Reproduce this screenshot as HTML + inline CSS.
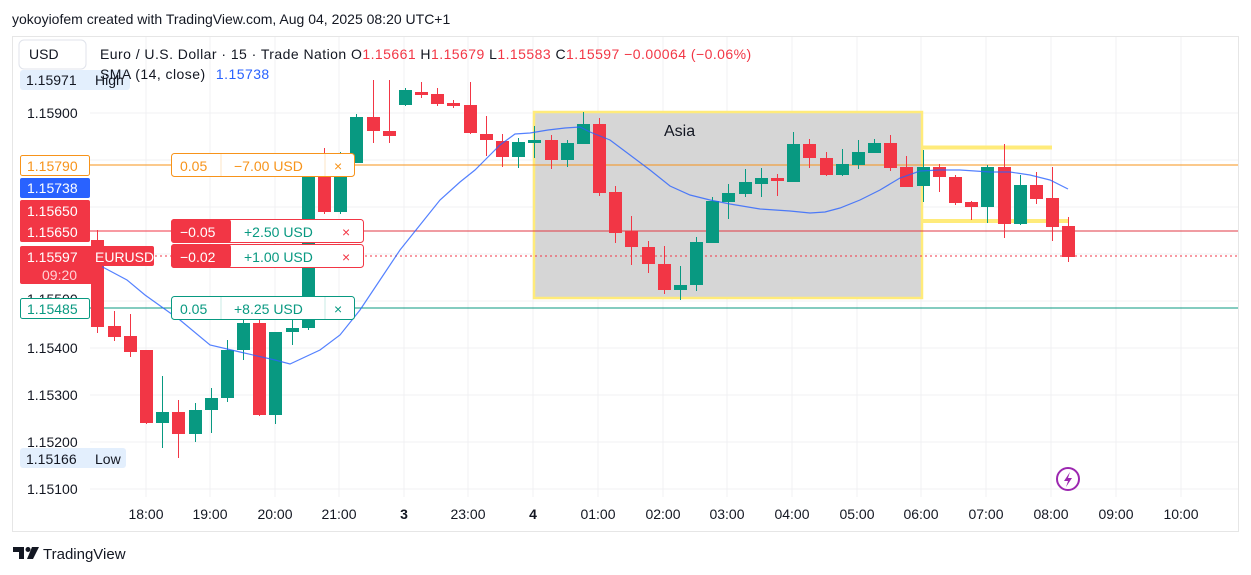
<!DOCTYPE html>
<html><head><meta charset="utf-8"><style>
html,body{margin:0;padding:0;background:#fff;width:1251px;height:575px;overflow:hidden}
svg{display:block;font-family:"Liberation Sans",sans-serif}
</style></head><body>
<svg id="s" width="1251" height="575" xmlns="http://www.w3.org/2000/svg">
<rect x="0" y="0" width="1251" height="575" fill="#fff"/>
<text x="12" y="24" font-size="14" fill="#131722">yokoyiofem created with TradingView.com, Aug 04, 2025 08:20 UTC+1</text>
<rect x="12.5" y="36.5" width="1226" height="495" fill="#fff" stroke="#e6e6e6"/>
<g id="grid" stroke="#f0f1f3" stroke-width="1"></g>
<rect x="534" y="112" width="388" height="186" fill="#d6d6d6" stroke="#ffeb7a" stroke-width="2.5"/>
<text x="664" y="136" font-size="16" fill="#131722">Asia</text>
<rect x="922" y="145.5" width="130" height="4" fill="#ffeb7a"/>
<rect x="922" y="219" width="146" height="4" fill="#ffeb7a"/>
<line x1="90" y1="165" x2="1238" y2="165" stroke="#f7931a" stroke-width="1"/>
<line x1="90" y1="231" x2="1238" y2="231" stroke="#e03a44" stroke-width="1"/>
<line x1="90" y1="256" x2="1238" y2="256" stroke="#f23645" stroke-width="1" stroke-dasharray="2,3"/>
<line x1="90" y1="308" x2="1238" y2="308" stroke="#089981" stroke-width="1"/>
<g id="c"></g>
<polyline id="sma" fill="none" stroke="#2962ff" stroke-opacity="0.8" stroke-width="1.2" points="97,264 127,280 145,295 180,320 210,345 240,352 275,360 290,364 320,350 340,335 360,310 380,280 400,250 420,225 440,200 460,182 475,170 485,160 500,145 515,134 530,133 548,130 565,128 580,127 590,132 610,140 630,155 650,170 670,186 690,195 710,200 730,204 760,209 790,211 810,213 825,212 840,208 860,200 880,190 900,178 920,171 940,170 960,170 990,172 1010,172 1030,175 1050,180 1068,189"/>
<g id="lbl" font-size="14" fill="#131722"></g>
<rect x="19" y="40" width="67" height="29" rx="5" fill="#fff" stroke="#e0e3eb"/>
<text x="29" y="59" font-size="14" fill="#131722">USD</text>
<rect x="20" y="70" width="110" height="20" rx="3" fill="#e3effd"/>
<text x="26" y="85" font-size="14" fill="#131722">1.15971</text><text x="95" y="85" font-size="14" fill="#131722">High</text>
<text x="100" y="59" font-size="14" letter-spacing="0.45" fill="#131722">Euro / U.S. Dollar · 15 · Trade Nation  O<tspan fill="#f23645">1.15661</tspan>  H<tspan fill="#f23645">1.15679</tspan>  L<tspan fill="#f23645">1.15583</tspan>  C<tspan fill="#f23645">1.15597</tspan>  <tspan fill="#f23645">−0.00064 (−0.06%)</tspan></text>
<text x="100" y="79" font-size="14" letter-spacing="0.45" fill="#131722">SMA (14, close) <tspan fill="#2962ff" dx="6">1.15738</tspan></text>
<rect x="20.5" y="155.5" width="69" height="20" rx="2" fill="#fff" stroke="#f7931a"/>
<text x="27" y="171" font-size="14" fill="#f7931a">1.15790</text>
<rect x="20" y="178" width="70" height="20" rx="2" fill="#2962ff"/>
<text x="27" y="193" font-size="14" fill="#fff">1.15738</text>
<rect x="20" y="200" width="70" height="42" rx="2" fill="#f23645"/>
<text x="27" y="216" font-size="14" fill="#fff">1.15650</text>
<text x="27" y="237" font-size="14" fill="#fff">1.15650</text>
<line x1="90" y1="231" x2="170" y2="231" stroke="#f23645"/>
<rect x="20" y="246" width="134" height="20" rx="2" fill="#f23645"/>
<rect x="20" y="262" width="82" height="22" rx="2" fill="#f23645"/>
<text x="27" y="262" font-size="14" fill="#fff">1.15597</text>
<text x="95" y="262" font-size="14" fill="#fff">EURUSD</text>
<text x="42" y="280" font-size="14" fill="#ffd0d4">09:20</text>
<text x="27" y="304" font-size="14" fill="#131722">1.15500</text>
<rect x="20.5" y="298.5" width="69" height="20" rx="2" fill="#fff" stroke="#089981"/>
<text x="27" y="314" font-size="14" fill="#089981">1.15485</text>
<rect x="20" y="448" width="106" height="20" rx="3" fill="#e3effd"/>
<text x="26" y="464" font-size="14" fill="#131722">1.15166</text><text x="95" y="464" font-size="14" fill="#131722">Low</text>
<g font-size="14">
<rect x="171.5" y="153.5" width="183" height="23" rx="3" fill="#fff" stroke="#f7931a"/>
<line x1="221" y1="154" x2="221" y2="176" stroke="#fde6c4"/><line x1="325" y1="154" x2="325" y2="176" stroke="#fde6c4"/>
<text x="180" y="171" fill="#f7931a">0.05</text><text x="234" y="171" fill="#f7931a">−7.00 USD</text><text x="334" y="171" fill="#f7931a">×</text>
<rect x="171.5" y="219.5" width="192" height="23" rx="3" fill="#fff" stroke="#f23645"/>
<rect x="171" y="219" width="60" height="24" rx="3" fill="#f23645"/>
<text x="180" y="237" fill="#fff">−0.05</text><text x="244" y="237" fill="#089981">+2.50 USD</text><text x="342" y="237" fill="#f23645">×</text>
<rect x="171.5" y="244.5" width="192" height="23" rx="3" fill="#fff" stroke="#f23645"/>
<rect x="171" y="244" width="60" height="24" rx="3" fill="#f23645"/>
<text x="180" y="262" fill="#fff">−0.02</text><text x="244" y="262" fill="#089981">+1.00 USD</text><text x="342" y="262" fill="#f23645">×</text>
<rect x="171.5" y="296.5" width="183" height="23" rx="3" fill="#fff" stroke="#089981"/>
<line x1="221" y1="297" x2="221" y2="319" stroke="#c8ebe4"/><line x1="325" y1="297" x2="325" y2="319" stroke="#c8ebe4"/>
<text x="180" y="314" fill="#089981">0.05</text><text x="234" y="314" fill="#089981">+8.25 USD</text><text x="334" y="314" fill="#089981">×</text>
</g>
<circle cx="1068" cy="479" r="11" fill="#fff" stroke="#9c27b0" stroke-width="2"/>
<path d="M1070,472 L1064,481 L1068,481 L1066,487 L1072,478 L1068,478 Z" fill="#9c27b0"/>
<g transform="translate(13,545)"><path d="M0,2 H11 V14 H6 V7 H0 Z" fill="#131722"/><circle cx="15" cy="4.5" r="2.5" fill="#131722"/><path d="M19,2 H26 L20,14 H14 Z" fill="#131722"/></g>
<text x="43" y="559" font-size="15" fill="#131722">TradingView</text>
</svg>
<script>
var NS="http://www.w3.org/2000/svg";
function el(p,t,a,txt){var e=document.createElementNS(NS,t);for(var k in a)e.setAttribute(k,a[k]);if(txt)e.textContent=txt;p.appendChild(e);return e;}
var g=document.getElementById('grid'),l=document.getElementById('lbl');
var xs=[146,210,275,339,404,468,533,598,663,727,792,857,921,986,1051,1116,1181];
var tl=["18:00","19:00","20:00","21:00","3","23:00","4","01:00","02:00","03:00","04:00","05:00","06:00","07:00","08:00","09:00","10:00"];
xs.forEach(function(x,i){el(g,'line',{x1:x,y1:37,x2:x,y2:497});var t=el(l,'text',{x:x,y:519,'text-anchor':'middle'},tl[i]);if(tl[i]=="3"||tl[i]=="4")t.setAttribute('font-weight','bold');});
for(var i=0;i<9;i++){var y=113+47*i;el(g,'line',{x1:90,y1:y,x2:1238,y2:y});var p=(1.159-0.001*i).toFixed(5);if(i!=4)el(l,'text',{x:27,y:y+5},p);}
var C=[[-3,'r',240,327,230,333],[-2,'r',326,337,311,341],[-1,'r',336,352,314,357],[0,'r',350,423,350,424],[1,'g',423,412,376,448],[2,'r',412,434,400,458],[3,'g',434,410,403,442],[4,'g',410,398,388,433],[5,'g',398,350,340,402],[6,'g',350,323,320,360],[7,'r',323,415,320,416],[8,'g',415,332,332,424],[9,'g',332,328,320,345],[10,'g',328,177,170,330],[11,'r',162,212,148,214],[12,'g',212,165,152,214],[13,'g',163,117,114,163],[14,'r',117,131,80,143],[15,'r',131,136,80,143],[16,'g',105,90,88,106],[17,'r',92,95,82,98],[18,'r',94,104,88,106],[19,'r',103,106,100,108],[20,'r',105,133,82,134],[21,'r',134,140,116,156],[22,'r',141,157,134,167],[23,'g',157,142,138,168],[24,'g',143,140,126,158],[25,'r',140,160,135,169],[26,'g',160,143,140,167],[27,'g',144,124,112,144],[28,'r',124,193,118,196],[29,'r',192,233,186,243],[30,'r',231,247,216,265],[31,'r',247,264,241,273],[32,'r',264,290,246,294],[33,'g',290,285,266,300],[34,'g',285,242,237,291],[35,'g',243,201,197,243],[36,'g',202,193,184,219],[37,'g',194,182,169,197],[38,'g',184,178,168,197],[39,'r',178,181,174,196],[40,'g',182,144,132,182],[41,'r',144,158,139,168],[42,'r',158,175,152,176],[43,'g',175,164,149,176],[44,'g',165,152,140,169],[45,'g',153,143,139,153],[46,'r',143,168,135,171],[47,'r',167,187,156,187],[48,'g',186,167,150,202],[49,'r',167,177,164,192],[50,'r',177,203,175,205],[51,'r',202,207,201,220],[52,'g',207,167,165,223],[53,'r',167,224,144,238],[54,'g',224,185,175,225],[55,'r',185,199,172,204],[56,'r',198,227,167,241],[57,'r',226,257,217,262]];
var cg=document.getElementById('c');
C.forEach(function(c){var x=Math.round(146+16.18*c[0]);var col=c[1]=='r'?'#f23645':'#089981';var t=Math.min(c[2],c[3]),b=Math.max(c[2],c[3]);
el(cg,'line',{x1:x+0.5,y1:c[4],x2:x+0.5,y2:c[5],stroke:col,'stroke-width':1});
el(cg,'rect',{x:x-6,y:t,width:13,height:Math.max(b-t,2),fill:col});});
</script>
</body></html>
